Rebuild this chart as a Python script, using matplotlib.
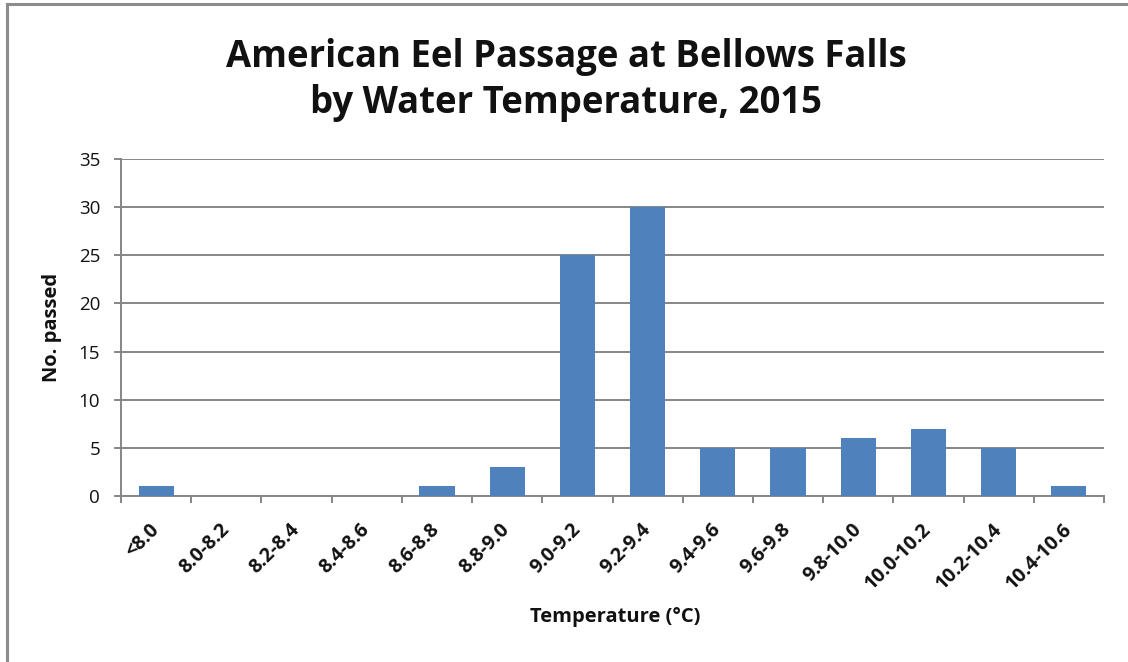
import matplotlib
matplotlib.use("Agg")
import matplotlib.pyplot as plt
from matplotlib.lines import Line2D
import matplotlib.transforms as mtrans
import numpy as np

categories = ["<8.0", "8.0-8.2", "8.2-8.4", "8.4-8.6", "8.6-8.8", "8.8-9.0", "9.0-9.2",
              "9.2-9.4", "9.4-9.6", "9.6-9.8", "9.8-10.0", "10.0-10.2", "10.2-10.4", "10.4-10.6"]
passed = [1, 0, 0, 0, 1, 3, 25, 30, 5, 5, 6, 7, 5, 1]
yticks = [0, 5, 10, 15, 20, 25, 30, 35]

plt.rcParams['font.family'] = ['Open Sans', 'DejaVu Sans']
grid_col = "#868686"
bar_col = "#4F81BD"

W, H = 1128, 662
fig = plt.figure(figsize=(W / 100, H / 100), dpi=100)
ax = fig.add_axes([121 / W, 1 - 496 / H, (1104 - 121) / W, (496 - 159) / H])

x = np.arange(len(categories))
ax.bar(x, passed, width=0.5, color=bar_col, zorder=3)

ax.set_xlim(-0.5, len(categories) - 0.5)
ax.set_ylim(0, 35)
ax.set_yticks(yticks)
ax.yaxis.grid(True, color=grid_col, linewidth=1.4)
ax.set_axisbelow(True)

ax.set_xticks(x)
ax.set_xticklabels(categories, rotation=45, ha="right", va="center", rotation_mode="anchor",
                   fontsize=14, fontweight="bold", color="#111111")
shift = mtrans.ScaledTranslation(4 / 72, 0, fig.dpi_scale_trans)
for lbl in ax.get_xticklabels():
    lbl.set_transform(lbl.get_transform() + shift)
ax.set_xticks(np.arange(-0.5, len(categories)), minor=True)
ax.tick_params(axis="x", which="major", length=0, pad=22)
ax.tick_params(axis="x", which="minor", length=5, width=1.4, color=grid_col)
ax.tick_params(axis="y", length=5, width=1.4, color=grid_col, labelsize=13.5, pad=10,
               labelcolor="#111111")

for s in ["top", "right"]:
    ax.spines[s].set_visible(False)
for s in ["left", "bottom"]:
    ax.spines[s].set_color(grid_col)
    ax.spines[s].set_linewidth(1.4)

fig.text(52 / W, 1 - 327 / H, "No. passed", fontsize=14.5, fontweight="bold",
         rotation=90, ha="center", va="center", color="#111111")
fig.text(615 / W, 1 - 617 / H, "Temperature (°C)", fontsize=14.5, fontweight="bold",
         ha="center", va="center", color="#111111")

fig.text(566 / W, 1 - 57 / H, "American Eel Passage at Bellows Falls", fontsize=26.3,
         fontweight="bold", ha="center", va="center", color="#111111")
fig.text(566 / W, 1 - 103 / H, "by Water Temperature, 2015", fontsize=26.3,
         fontweight="bold", ha="center", va="center", color="#111111")

# outer frame: only the left and top edges fall inside the image
fig.lines.append(Line2D([7 / W, 7 / W], [0, 1 - 4 / H], transform=fig.transFigure,
                        color="#8c8c8c", linewidth=2.2))
fig.lines.append(Line2D([7 / W, 1], [1 - 4 / H, 1 - 4 / H], transform=fig.transFigure,
                        color="#8c8c8c", linewidth=2.2))

fig.savefig("out.png", dpi=100)
